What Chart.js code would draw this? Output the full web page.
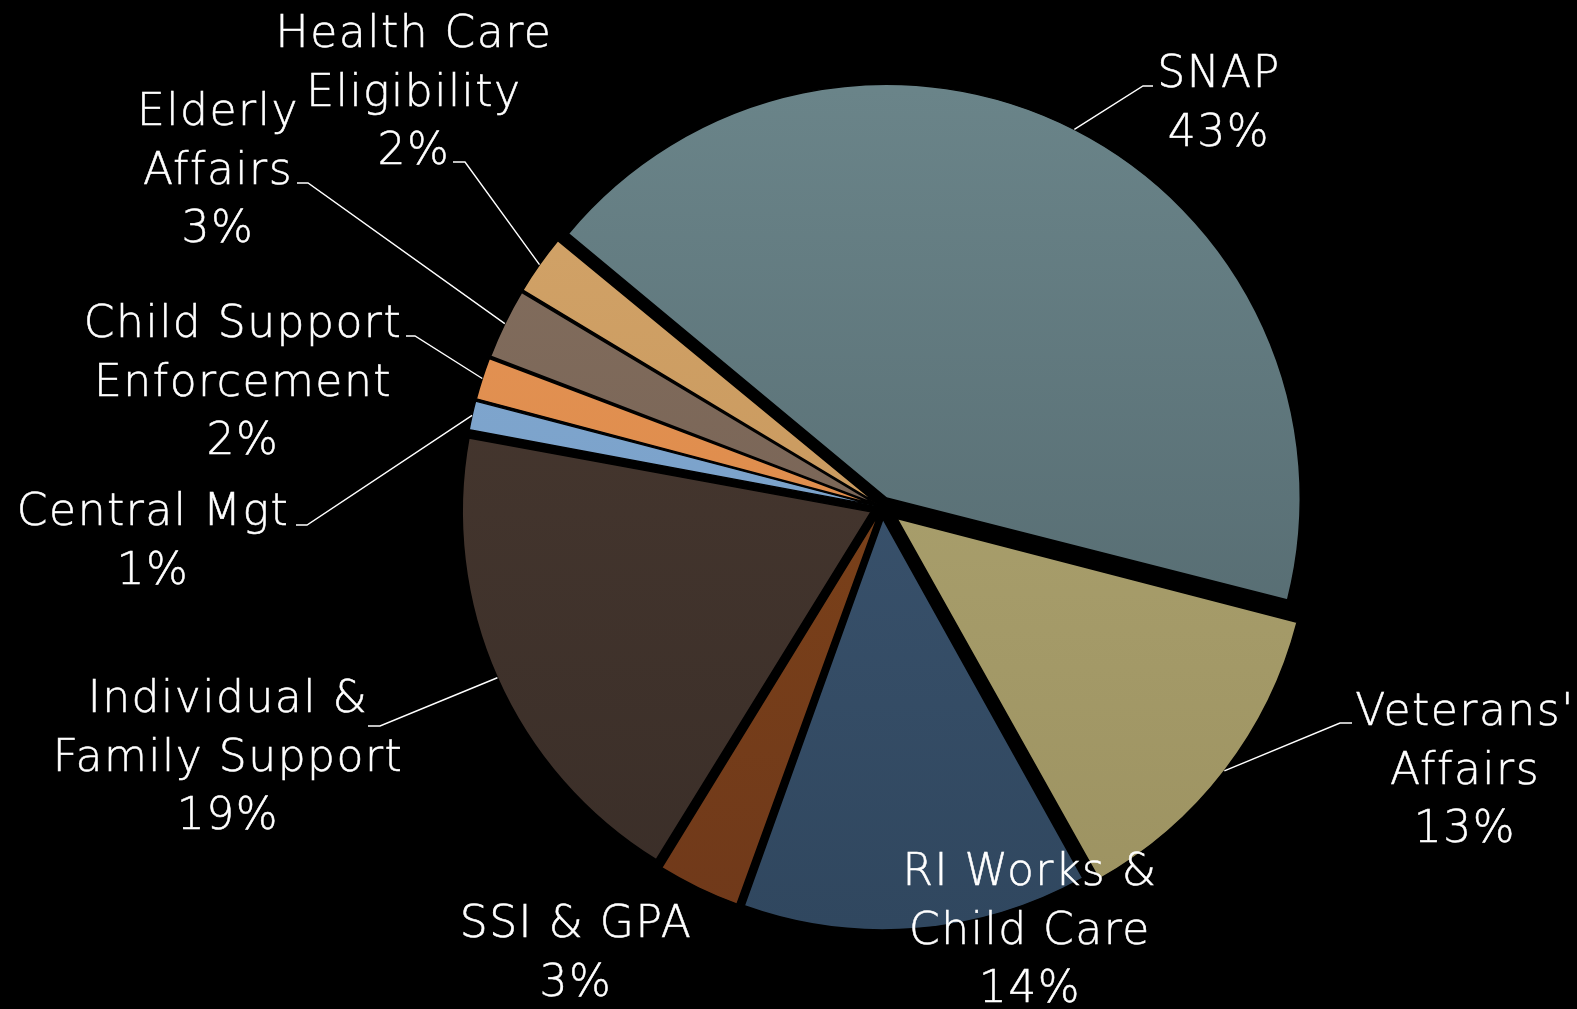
<!DOCTYPE html>
<html>
<head>
<meta charset="utf-8">
<script src="https://cdn.jsdelivr.net/npm/chart.js@4.4.1/dist/chart.umd.min.js"></script>
<style>
  html, body { margin: 0; padding: 0; background: #000; overflow: hidden; }
  #wrap { width: 1577px; height: 1009px; background: #000; }
</style>
</head>
<body>
<div id="wrap"><canvas id="c" width="1577" height="1009"></canvas></div>
<script>
// ---- data ----
const categories = [
  ["SNAP"],
  ["Veterans'", "Affairs"],
  ["RI Works &", "Child Care"],
  ["SSI & GPA"],
  ["Individual &", "Family Support"],
  ["Central Mgt"],
  ["Child Support", "Enforcement"],
  ["Elderly", "Affairs"],
  ["Health Care", "Eligibility"]
];
const shares = [43.0, 12.9, 13.6, 3.3, 19.1, 1.2, 1.7, 2.8, 2.4];

// ---- styles ----
const colorTop    = ["#6a8489", "#b2a874", "#3f5975", "#834719", "#4a3a31", "#86acd3", "#e6965a", "#85705f", "#d4a56a"];
const colorBottom = ["#4e6268", "#9c9261", "#30475f", "#70391a", "#3a2e28", "#7098c2", "#d8843f", "#705c50", "#c09055"];
const explode = [40, 76, 48, 33, 48, 25, 25, 25, 25];

// ---- label layout (text centre x, first baseline y, leader attach [x, y, elbow dx]) ----
const labelLayout = [
  { x: 1219, y: 87,  leader: [1153, 86, -10] },
  { x: 1465, y: 725, leader: [1352, 723, -12] },
  { x: 1030, y: 885 },
  { x: 576,  y: 937 },
  { x: 228,  y: 712, leader: [368, 726, 12] },
  { x: 153,  y: 525, leader: [296, 525, 11] },
  { x: 243,  y: 337, leader: [406, 336, 9] },
  { x: 218,  y: 125, leader: [297, 183, 11] },
  { x: 414,  y: 47,  leader: [453, 162, 12] }
];
const LINE_H = 58.5;
const FONT = '200 44px "DejaVu Sans", "Open Sans", sans-serif';
const RADIUS = 408;

const total = shares.reduce((a, b) => a + b, 0);

function gradientFill(ctx) {
  const i = ctx.dataIndex;
  const chart = ctx.chart;
  const area = chart.chartArea;
  if (!area || i === undefined) return colorTop[i || 0];
  const cy = (area.top + area.bottom) / 2;
  const g = chart.ctx.createLinearGradient(0, cy - RADIUS, 0, cy + RADIUS);
  g.addColorStop(0, colorTop[i]);
  g.addColorStop(1, colorBottom[i]);
  return g;
}

const outLabels = {
  id: 'outLabels',
  afterDatasetsDraw(chart) {
    const ctx = chart.ctx;
    const meta = chart.getDatasetMeta(0);
    meta.data.forEach((arc, i) => {
      const p = arc.getProps(['x', 'y', 'startAngle', 'endAngle', 'outerRadius', 'circumference'], true);
      const off = (arc.options.offset || 0) / 4;
      const mid = (p.startAngle + p.endAngle) / 2;
      const fix = 1 - Math.sin(Math.min(Math.PI, p.circumference));
      const r = p.outerRadius + off * fix;
      const ax = p.x + Math.cos(mid) * (off + r);
      const ay = p.y + Math.sin(mid) * (off + r);
      const L = labelLayout[i];
      const lines = categories[i].concat([Math.round(shares[i] / total * 100) + '%']);
      ctx.save();
      ctx.fillStyle = '#ffffff';
      ctx.strokeStyle = '#ffffff';
      ctx.font = FONT;
      try { ctx.letterSpacing = '1.5px'; } catch (e) {}
      ctx.textAlign = 'center';
      ctx.textBaseline = 'alphabetic';
      ctx.lineWidth = 0.5;
      lines.forEach((t, k) => {
        ctx.fillText(t, L.x, L.y + k * LINE_H);
        ctx.strokeText(t, L.x, L.y + k * LINE_H);
      });
      if (L.leader) {
        ctx.lineWidth = 1.4;
        ctx.beginPath();
        ctx.moveTo(ax, ay);
        ctx.lineTo(L.leader[0] + L.leader[2], L.leader[1]);
        ctx.lineTo(L.leader[0], L.leader[1]);
        ctx.stroke();
      }
      ctx.restore();
    });
  }
};

new Chart(document.getElementById('c'), {
  type: 'pie',
  data: {
    labels: categories,
    datasets: [{
      data: shares,
      backgroundColor: gradientFill,
      borderColor: '#000000',
      borderWidth: 1.5,
      offset: explode,
      hoverOffset: 0
    }]
  },
  options: {
    responsive: false,
    animation: false,
    devicePixelRatio: 1,
    rotation: -50.4,
    radius: RADIUS,
    layout: { padding: { left: 187, right: 0, top: 5, bottom: 0 } },
    plugins: {
      legend: { display: false },
      tooltip: { enabled: false }
    }
  },
  plugins: [outLabels]
});
</script>
</body>
</html>
